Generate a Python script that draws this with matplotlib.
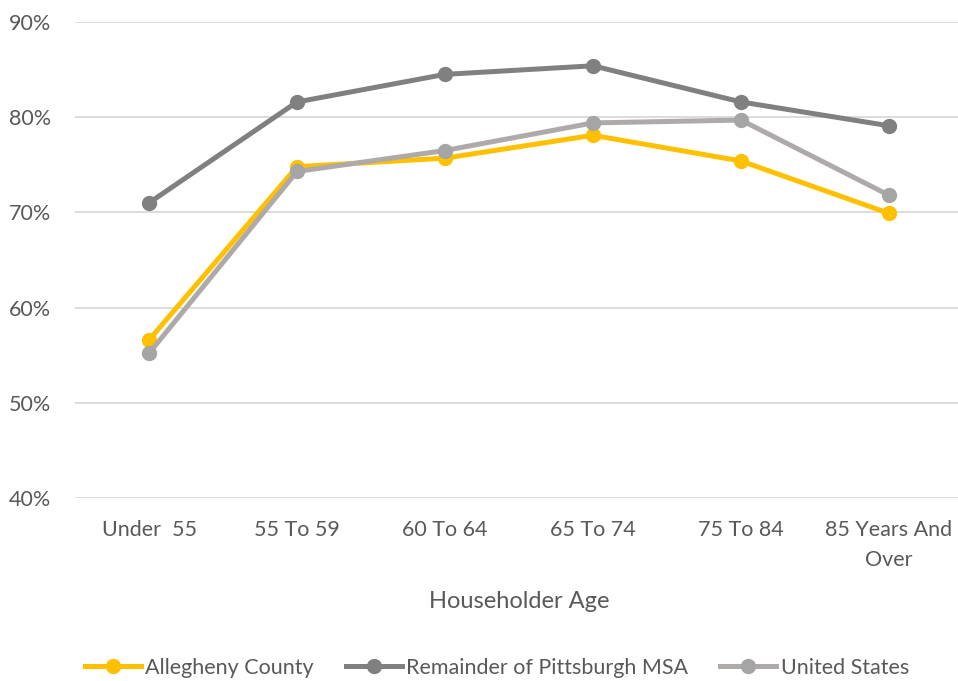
import matplotlib.pyplot as plt

plt.rcParams['font.family'] = ['Lato', 'DejaVu Sans']

# Share of households by householder age
categories = ['Under  55', '55 To 59', '60 To 64', '65 To 74', '75 To 84', '85 Years And\nOver']
allegheny = [56.6, 74.8, 75.7, 78.1, 75.4, 69.9]
remainder = [71.0, 81.6, 84.5, 85.4, 81.6, 79.1]
united_states = [55.2, 74.3, 76.5, 79.4, 79.7, 71.8]
y_ticks = [40, 50, 60, 70, 80, 90]

text_color = '#595959'

fig = plt.figure(figsize=(9.58, 6.81), dpi=100)
ax = fig.add_axes([75 / 958, 1 - 498 / 681, 888 / 958, 476 / 681])

x = range(len(categories))
ax.plot(x, allegheny, color='#FFC000', lw=3.6, marker='o', ms=10, label='Allegheny County', zorder=3)
ax.plot(x, remainder, color='#808080', lw=3.6, marker='o', ms=10, label='Remainder of Pittsburgh MSA', zorder=3)
ax.plot(x, united_states, color='#AEAAAA', lw=3.6, marker='o', ms=10,
        markerfacecolor='#A5A5A5', markeredgecolor='#A5A5A5', label='United States', zorder=3)

ax.set_xlim(-0.5, len(categories) - 0.5)
ax.set_ylim(40, 90)
ax.set_yticks(y_ticks)
ax.set_yticklabels(['{}%'.format(t) for t in y_ticks])
ax.set_xticks(list(x))
ax.set_xticklabels(categories, linespacing=1.6)
ax.grid(axis='y', color='#D9D9D9', lw=1.3)
ax.set_axisbelow(True)
for s in ax.spines.values():
    s.set_visible(False)
ax.tick_params(length=0, labelsize=15.5, labelcolor=text_color)
ax.tick_params(axis='x', pad=16)
ax.tick_params(axis='y', pad=17)

ax.set_xlabel('Householder Age', fontsize=17, color=text_color, labelpad=15)

ax.legend(loc='center', bbox_to_anchor=(0.475, -0.357), ncol=3, frameon=False,
          fontsize=15.5, labelcolor=text_color, handlelength=2.6, handletextpad=0.2, columnspacing=1.5)

fig.savefig('out.png', dpi=100)
